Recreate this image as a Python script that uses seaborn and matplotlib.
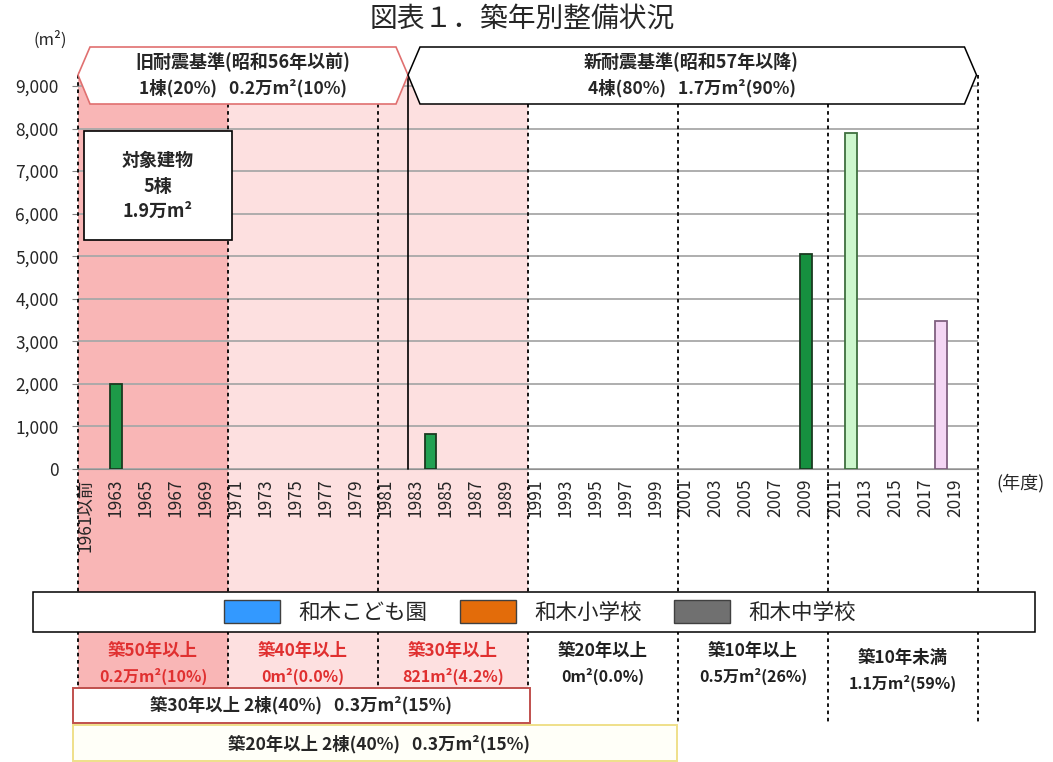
import numpy as np
import pandas as pd
import matplotlib
matplotlib.use("Agg")
import matplotlib.pyplot as plt
import seaborn as sns
from matplotlib.patches import Rectangle, Polygon, Patch
from matplotlib.lines import Line2D
from matplotlib.transforms import blended_transform_factory

# %%
# data
years = ["1961以前"] + [str(y) for y in range(1962, 2021)]
bar_years = ["1963", "1984", "2009", "2012", "2018"]
bar_areas = [2000, 821, 5050, 7900, 3480]
bar_fill = ["#1d9a48", "#22a052", "#16903f", "#cdf7cd", "#f4d6f4"]
bar_edge = ["#1a3a20", "#1a3a20", "#1a3a20", "#3f6f3f", "#806080"]

legend_names = ["和木こども園", "和木小学校", "和木中学校"]
legend_colors = ["#3399ff", "#e36c0a", "#707070"]

age_labels = ["築50年以上", "築40年以上", "築30年以上", "築20年以上", "築10年以上", "築10年未満"]
age_areas = ["0.2万m²(10%)", "0m²(0.0%)", "821m²(4.2%)", "0m²(0.0%)", "0.5万m²(26%)", "1.1万m²(59%)"]
age_red = [True, True, True, False, False, False]

df = pd.DataFrame({"year": years, "area": [0.0] * len(years)})
for y, a in zip(bar_years, bar_areas):
    df.loc[df["year"] == y, "area"] = a

# %%
sns.set_style("white")
plt.rcParams["font.family"] = ["Noto Sans CJK JP", "DejaVu Sans"]

W, H = 1053, 762
def fx(px):
    return px / W
def fy(py):
    return 1 - py / H

fig = plt.figure(figsize=(W / 100, H / 100), dpi=100)
ax = fig.add_axes([fx(78), fy(469), fx(978) - fx(78), fy(70) - fy(469)])
ax.set_facecolor("none")

sns.barplot(data=df, x="year", y="area", order=years, width=0.8,
            color="#1d9a48", errorbar=None, ax=ax, zorder=3)
for p in ax.patches:
    i = int(round(p.get_x() + p.get_width() / 2))
    y = years[i]
    if y in bar_years:
        k = bar_years.index(y)
        p.set_facecolor(bar_fill[k])
        p.set_edgecolor(bar_edge[k])
        p.set_linewidth(1.3)
    else:
        p.set_linewidth(0)

ax.set_xlim(-0.5, len(years) - 0.5)
ax.set_ylim(0, 9375)
ax.set_yticks(range(0, 9001, 1000))
ax.set_yticklabels([f"{v:,}" for v in range(0, 9001, 1000)], fontsize=12.5)
ax.set_xticks(range(0, len(years), 2))
ax.set_xticklabels(years[::2], rotation=90, fontsize=12.5, va="top", ha="center")
ax.set_xticks(np.arange(-0.5, len(years), 1), minor=True)
ax.tick_params(axis="x", which="major", length=0, pad=7)
ax.tick_params(axis="x", which="minor", length=4, color="#808080", direction="out")
ax.tick_params(axis="y", length=4, color="#808080", pad=10, left=True)
ax.set_xlabel("")
ax.set_ylabel("")
ax.yaxis.grid(True, color="#a8a8a8", lw=1.3)
ax.set_axisbelow(True)
for s in ["top", "right", "left"]:
    ax.spines[s].set_visible(False)
ax.spines["bottom"].set_color("#909090")

bt = blended_transform_factory(ax.transData, fig.transFigure)

# background shading for old buildings
fig.add_artist(Rectangle((-0.5, fy(690)), 10, fy(72) - fy(690), transform=bt,
                         fc="#f9b6b6", ec="none", zorder=-2))
fig.add_artist(Rectangle((9.5, fy(690)), 20, fy(72) - fy(690), transform=bt,
                         fc="#fde0e0", ec="none", zorder=-2))

# decade separators
for b in np.arange(-0.5, len(years), 10):
    fig.add_artist(Line2D([b, b], [fy(75), fy(722)], transform=bt, color="black",
                          lw=1.3, ls=(0, (2, 2)), zorder=1))
fig.add_artist(Line2D([21.5, 21.5], [fy(75), fy(469)], transform=bt, color="black",
                      lw=1.2, zorder=2))

# header boxes
top, mid, bot = fy(47), fy(75), fy(104)
fig.add_artist(Polygon([(-0.5, mid), (0.3, top), (20.7, top), (21.5, mid), (20.7, bot), (0.3, bot)],
                       closed=True, transform=bt, fc="white", ec="#e07070", lw=1.2, zorder=4))
fig.add_artist(Polygon([(21.5, mid), (22.3, top), (58.6, top), (59.4, mid), (58.6, bot), (22.3, bot)],
                       closed=True, transform=bt, fc="white", ec="black", lw=1.1, zorder=4))
fig.text(10.5, fy(62), "旧耐震基準(昭和56年以前)", transform=bt, ha="center", va="center",
         fontsize=13, fontweight="bold", zorder=5)
fig.text(10.5, fy(88), "1棟(20%)   0.2万m²(10%)", transform=bt, ha="center", va="center",
         fontsize=12.5, fontweight="bold", zorder=5)
fig.text(40.4, fy(62), "新耐震基準(昭和57年以降)", transform=bt, ha="center", va="center",
         fontsize=13, fontweight="bold", zorder=5)
fig.text(40.4, fy(88), "4棟(80%)   1.7万m²(90%)", transform=bt, ha="center", va="center",
         fontsize=12.5, fontweight="bold", zorder=5)

# total box
fig.add_artist(Rectangle((fx(84), fy(240)), fx(232) - fx(84), fy(131) - fy(240),
                         transform=fig.transFigure, fc="white", ec="black", lw=1.2, zorder=4))
fig.text(fx(158), fy(186), "対象建物\n5棟\n1.9万m²", ha="center", va="center",
         fontsize=13, fontweight="bold", linespacing=1.45, zorder=5)

# titles and unit labels
fig.text(fx(522), fy(19), "図表１．築年別整備状況", ha="center", va="center", fontsize=20)
fig.text(fx(50), fy(40), "(m²)", ha="center", va="center", fontsize=12)
fig.text(fx(1020), fy(483), "(年度)", ha="center", va="center", fontsize=13)

# legend
fig.add_artist(Rectangle((fx(33), fy(632)), fx(1035) - fx(33), fy(592) - fy(632),
                         transform=fig.transFigure, fc="white", ec="black", lw=1.1, zorder=3))
handles = [Patch(facecolor=c, edgecolor="#404040", label=n) for n, c in zip(legend_names, legend_colors)]
fig.legend(handles=handles, loc="center", bbox_to_anchor=(fx(540), fy(612)), ncol=3,
           frameon=False, fontsize=15.5, handlelength=2.6, handleheight=1.3,
           handletextpad=0.85, columnspacing=1.5)

# age-band annotations
for i, (lab, area, red) in enumerate(zip(age_labels, age_areas, age_red)):
    xc = 4.5 + 10 * i
    off = 7 if i == 5 else 0
    col = "#e03030" if red else "#202020"
    fig.text(xc, fy(651 + off), lab, transform=bt, ha="center", va="center",
             fontsize=12.5, fontweight="bold", color=col)
    fig.text(xc, fy(676 + off), area, transform=bt, ha="center", va="center",
             fontsize=11.5, fontweight="bold", color=col)

fig.add_artist(Rectangle((-0.83, fy(723)), 30.46, fy(688) - fy(723), transform=bt,
                         fc="white", ec="#c0504d", lw=1.4, zorder=4))
fig.text(14.4, fy(705), "築30年以上 2棟(40%)   0.3万m²(15%)", transform=bt, ha="center",
         va="center", fontsize=12.5, fontweight="bold", zorder=5)
fig.add_artist(Rectangle((-0.83, fy(761)), 40.26, fy(725) - fy(761), transform=bt,
                         fc="#fffff8", ec="#efe08a", lw=1.4, zorder=4))
fig.text(19.6, fy(744), "築20年以上 2棟(40%)   0.3万m²(15%)", transform=bt, ha="center",
         va="center", fontsize=12.5, fontweight="bold", zorder=5)

fig.savefig("out.png", dpi=100)
